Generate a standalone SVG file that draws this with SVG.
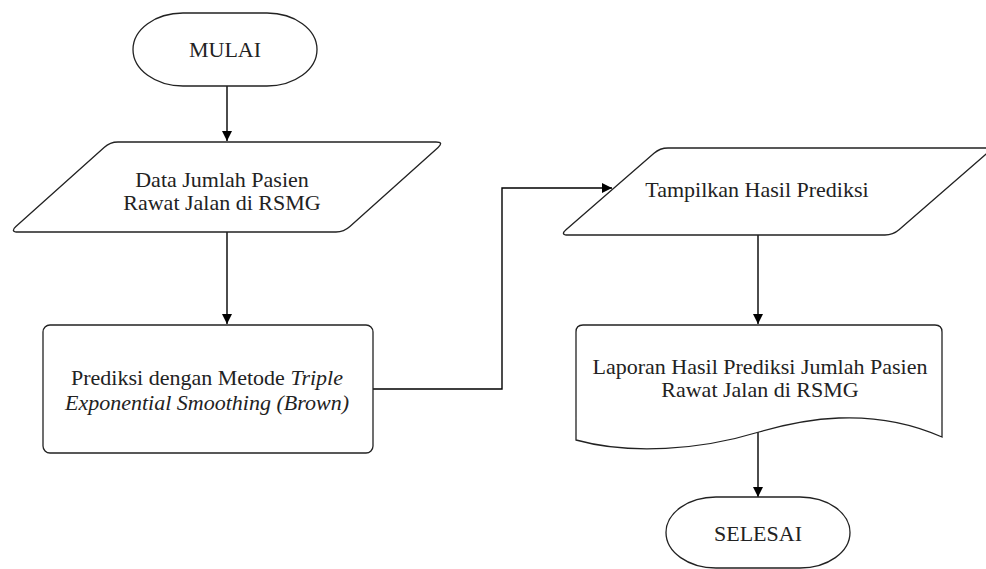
<svg xmlns="http://www.w3.org/2000/svg" width="986" height="569" viewBox="0 0 986 569">
<style>
.shape{fill:#fff;stroke:#222;stroke-width:1.3}
.edge{fill:none;stroke:#000;stroke-width:1.4}
text{font-family:"Liberation Serif","Times New Roman",serif;font-size:22px;fill:#222;text-anchor:middle}
.it{font-style:italic}
</style>
<defs>
<marker id="arr" viewBox="0 0 10 10" refX="10" refY="5" markerWidth="10" markerHeight="10" markerUnits="userSpaceOnUse" orient="auto">
<path d="M0,0 L10,5 L0,10 Z" fill="#000"/>
</marker>
</defs>
<rect width="986" height="569" fill="#fff"/>
<g id="connectors">
<path class="edge" d="M227,86 L227,141" marker-end="url(#arr)"/>
<path class="edge" d="M227,232 L227,324" marker-end="url(#arr)"/>
<path class="edge" d="M373,389 L502,389 L502,188 L612,188" marker-end="url(#arr)"/>
<path class="edge" d="M758,235 L758,324" marker-end="url(#arr)"/>
<path class="edge" d="M758,432 L758,497" marker-end="url(#arr)"/>
</g>
<g id="mulai">
<rect class="shape" x="133" y="13" width="184" height="73" rx="50" ry="36.5"/>
<text x="225" y="57">MULAI</text>
</g>
<g id="data">
<path class="shape" d="M118,142 L436,142 Q444,142 438.1,147.4 L349.9,226.6 Q344,232 336,232 L18,232 Q10,232 15.9,226.6 L104.1,147.4 Q110,142 118,142 Z"/>
<text x="222" y="187">Data Jumlah Pasien</text>
<text x="222" y="210">Rawat Jalan di RSMG</text>
</g>
<g id="prediksi">
<rect class="shape" x="43" y="325" width="330" height="128" rx="7"/>
<text x="207" y="385">Prediksi dengan Metode <tspan class="it">Triple</tspan></text>
<text x="207" y="410" class="it">Exponential Smoothing (Brown)</text>
</g>
<g id="tampilkan">
<path class="shape" d="M668,148 L985,148 Q993,148 987,153.3 L899,229.7 Q893,235 885,235 L568,235 Q560,235 566,229.7 L654,153.3 Q660,148 668,148 Z"/>
<text x="757" y="197">Tampilkan Hasil Prediksi</text>
</g>
<g id="laporan">
<path class="shape" d="M583,325 L935,325 Q942,325 942,332 L942,437 C870,405 800,420 759,432 C700,450 630,455 576,440 L576,332 Q576,325 583,325 Z"/>
<text x="760" y="374">Laporan Hasil Prediksi Jumlah Pasien</text>
<text x="760" y="397">Rawat Jalan di RSMG</text>
</g>
<g id="selesai">
<rect class="shape" x="666" y="497" width="184" height="71" rx="50" ry="35.5"/>
<text x="758" y="541">SELESAI</text>
</g>
</svg>
